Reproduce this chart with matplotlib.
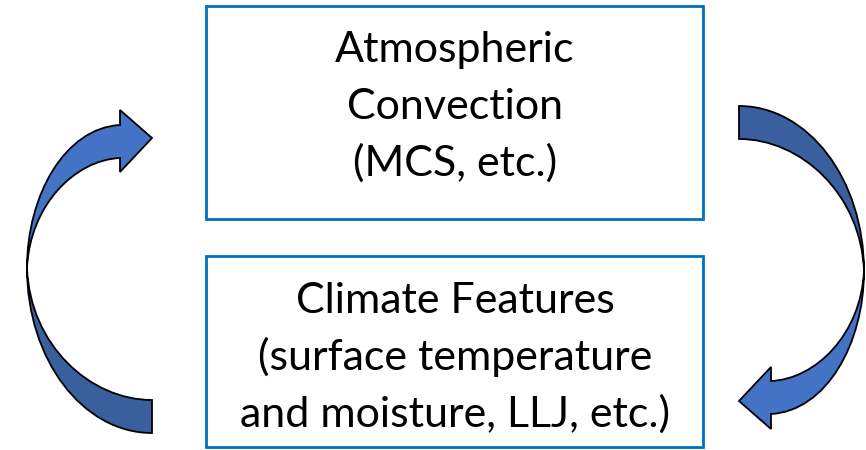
import matplotlib.pyplot as plt
from matplotlib.path import Path
from matplotlib.patches import PathPatch, Rectangle

plt.rcParams['font.family'] = ['Lato', 'DejaVu Sans']

# box text, one entry per line
top_lines = ["Atmospheric", "Convection", "(MCS, etc.)"]
bottom_lines = ["Climate Features", "(surface temperature", "and moisture, LLJ, etc.)"]

box_edge = "#0070C0"
light_blue = "#4472C4"
dark_blue = "#3A5F9F"

fig = plt.figure(figsize=(8.66, 4.5), dpi=100)
ax = fig.add_axes([0, 0, 1, 1])
ax.set_xlim(0, 866)
ax.set_ylim(450, 0)
ax.axis("off")

# the two boxes
ax.add_patch(Rectangle((206, 6), 497, 213, fill=False, edgecolor=box_edge, lw=2))
ax.add_patch(Rectangle((206, 256), 497, 191, fill=False, edgecolor=box_edge, lw=2))

for i, s in enumerate(top_lines):
    ax.text(455, 62 + 57 * i, s, ha="center", va="baseline", fontsize=31)
for i, s in enumerate(bottom_lines):
    ax.text(455, 313 + 57 * i, s, ha="center", va="baseline", fontsize=31)


def curved_arrow(flip=False):
    # upper part (band + head) and lower part (tail), left-hand arrow
    head = [((27, 268), Path.MOVETO),
            ((27, 195), Path.CURVE4), ((65, 128), Path.CURVE4), ((120, 125), Path.CURVE4),
            ((120, 110), Path.LINETO), ((152, 138), Path.LINETO), ((120, 172), Path.LINETO),
            ((120, 158), Path.LINETO),
            ((75, 160), Path.CURVE4), ((30, 205), Path.CURVE4), ((27, 268), Path.CURVE4),
            ((27, 268), Path.CLOSEPOLY)]
    tail = [((152, 433), Path.MOVETO),
            ((83, 433), Path.CURVE4), ((27, 360), Path.CURVE4), ((27, 268), Path.CURVE4),
            ((30, 345), Path.CURVE4), ((90, 400), Path.CURVE4), ((152, 400), Path.CURVE4),
            ((152, 433), Path.LINETO),
            ((152, 433), Path.CLOSEPOLY)]
    out = []
    for pts, col in [(head, light_blue), (tail, dark_blue)]:
        verts = [p for p, c in pts]
        if flip:
            verts = [(891 - x, 539 - y) for x, y in verts]
        codes = [c for p, c in pts]
        out.append(PathPatch(Path(verts, codes), facecolor=col, edgecolor="black", lw=1.3))
    return out


for p in curved_arrow() + curved_arrow(flip=True):
    ax.add_patch(p)

fig.savefig("out.png", dpi=100)
